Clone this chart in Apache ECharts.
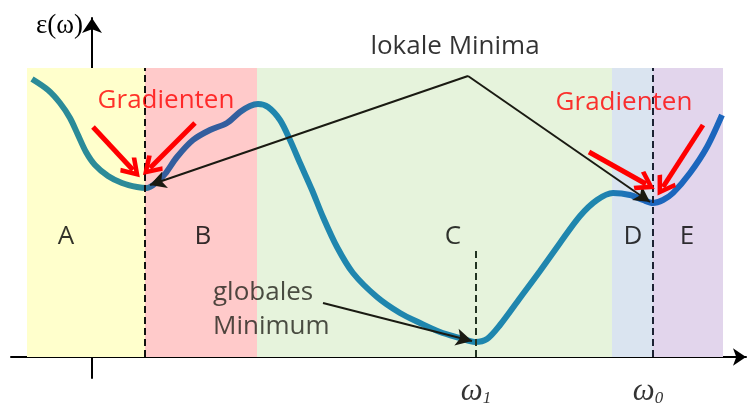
<!DOCTYPE html>
<html>
<head>
<meta charset="utf-8">
<script src="https://cdn.jsdelivr.net/npm/echarts@6/dist/echarts.min.js"></script>
<style>
  html, body { margin: 0; padding: 0; background: #fff; }
  #chart { width: 753px; height: 405px; }
</style>
</head>
<body>
<div id="chart"></div>
<script>
// x: Abstand zur y-Achse, y: Höhe über der x-Achse
const curveX = [-60, -44, -32, -22, -14, -6, 3, 16, 30, 45, 55, 65, 73, 85, 101, 118, 135, 148,
    158, 166, 176, 188, 198, 208, 220, 231, 245, 261, 285, 308, 328, 348, 368, 383, 395, 408,
    428, 448, 468, 488, 505, 521, 538, 551, 561, 571, 581, 598, 615, 630];
const curveY = [278, 267, 254, 239, 222, 205, 192, 181, 174, 170, 169, 175, 183, 200, 217, 227, 234, 245,
    251, 253, 250, 237, 217, 194, 167, 140, 110, 84, 60, 44, 34, 25, 19, 15, 18, 32,
    59, 86, 114, 141, 157, 164, 162, 157, 154, 157, 164, 184, 210, 242];

const regionNames = ['A', 'B', 'C', 'D', 'E'];
const regionEdges = [-65, 53, 165, 520, 561, 631];
const regionTop = 289;
const regionLabelX = [-26, 111, 361, 541, 595];
const regionLabelY = 120;

const omegaX = [384, 556];
const omegaSubs = ['1', '0'];
const axisBottom = -21;

// senkrechte gestrichelte Linien: [x, oberes Ende]
const dashedLines = [[53, 289], [561, 289], [384, 109]];

const localApex = [376, 281];
const localTips = [[58, 172], [558, 155]];
const globalFrom = [231, 54];
const globalTip = [380, 16];
const gradientArrows = [
    [[1, 230], [41, 187]],
    [[103, 234], [58, 189]],
    [[497, 205], [554, 173]],
    [[611, 232], [571, 170]]
];

const textLocal = ['lokale Minima', 363, 310];
const textGrad = [['Gradienten', 74, 256], ['Gradienten', 532, 254]];
const textGlobal = ['globales\nMinimum', 121, 47];

const regionColors = ['#ffffcc', '#ffcaca', '#e6f3dc', '#dae4f0', '#e2d5ec'];
const dashColors = ['#111111', '#1c2233', '#223322'];
const sansFont = '"Open Sans", "Noto Sans", sans-serif';
const serifFont = '"Liberation Serif", "DejaVu Serif", serif';

const chevron = 'path://M50,0 L100,78 L84,92 L50,38 L16,92 L0,78 Z';

function curveData() {
    return curveX.map(function(x, i) { return [x, curveY[i]]; });
}

function regionAreas() {
    return regionNames.map(function(n, i) {
        return [
            { xAxis: regionEdges[i], yAxis: 0, itemStyle: { color: regionColors[i] } },
            { xAxis: regionEdges[i + 1], yAxis: regionTop }
        ];
    });
}

function dashedMarks() {
    return dashedLines.map(function(d, i) {
        return [
            { coord: [d[0], 0], lineStyle: { color: dashColors[i] } },
            { coord: [d[0], d[1]] }
        ];
    });
}

function blackArrows() {
    const list = localTips.map(function(t) {
        return [{ coord: localApex }, { coord: t }];
    });
    list.push([{ coord: globalFrom }, { coord: globalTip }]);
    return list;
}

function redArrows() {
    return gradientArrows.map(function(a) {
        return [{ coord: a[0] }, { coord: a[1] }];
    });
}

function textPoints() {
    const pts = [];
    regionNames.forEach(function(n, i) {
        pts.push({ name: n, value: [regionLabelX[i], regionLabelY] });
    });
    pts.push({ name: textLocal[0], value: [textLocal[1], textLocal[2]] });
    textGrad.forEach(function(t) {
        pts.push({ name: t[0], value: [t[1], t[2]], label: { color: '#ff0000' } });
    });
    pts.push({
        name: textGlobal[0], value: [textGlobal[1], textGlobal[2]],
        label: { align: 'left', lineHeight: 34, color: '#22221a' }
    });
    return pts;
}

function omegaPoints() {
    return omegaX.map(function(x, i) {
        return { name: omegaSubs[i], value: [x, axisBottom] };
    });
}

const chart = echarts.init(document.getElementById('chart'));

chart.setOption({
    animation: false,
    grid: { left: 11, right: 7, top: 18, bottom: 27, outerBoundsMode: 'none', containLabel: false },
    xAxis: {
        type: 'value',
        min: -81,
        max: 654,
        splitLine: { show: false },
        axisTick: { show: false },
        axisLabel: { show: false },
        axisLine: {
            onZero: true,
            symbol: ['none', 'arrow'],
            symbolSize: [13, 13],
            lineStyle: { color: '#000', width: 2 }
        }
    },
    yAxis: {
        type: 'value',
        min: axisBottom,
        max: 339,
        splitLine: { show: false },
        axisTick: { show: false },
        axisLabel: { show: false },
        axisLine: {
            onZero: true,
            symbol: ['none', 'arrow'],
            symbolSize: [15, 15],
            lineStyle: { color: '#000', width: 2 }
        },
        name: 'ε(ω)',
        nameLocation: 'end',
        nameGap: -21,
        nameTextStyle: {
            fontFamily: serifFont,
            fontSize: 27,
            color: '#000',
            align: 'right',
            padding: [0, 9, 0, 0]
        }
    },
    series: [
        {
            type: 'line',
            data: curveData(),
            smooth: 0.3,
            showSymbol: false,
            silent: true,
            lineStyle: {
                width: 6,
                color: new echarts.graphic.LinearGradient(0, 0, 1, 0, [
                    { offset: 0, color: '#2b8b98' },
                    { offset: 0.161, color: '#2b8b98' },
                    { offset: 0.18, color: '#335e9e' },
                    { offset: 0.3, color: '#335e9e' },
                    { offset: 0.335, color: '#1f86ae' },
                    { offset: 0.82, color: '#1f86ae' },
                    { offset: 0.88, color: '#1b66bd' },
                    { offset: 1, color: '#1b66bd' }
                ])
            },
            markArea: {
                silent: true,
                data: regionAreas()
            },
            markLine: {
                silent: true,
                symbol: ['none', 'none'],
                label: { show: false },
                lineStyle: { type: [7, 4], width: 2 },
                data: dashedMarks()
            }
        },
        {
            type: 'scatter',
            data: [],
            silent: true,
            markLine: {
                silent: true,
                symbol: ['none', 'arrow'],
                symbolSize: [13, 16],
                label: { show: false },
                lineStyle: { type: 'solid', width: 2, color: '#1a1a12' },
                data: blackArrows()
            }
        },
        {
            type: 'scatter',
            data: [],
            silent: true,
            markLine: {
                silent: true,
                symbol: ['none', chevron],
                symbolSize: [22, 20],
                label: { show: false },
                lineStyle: { type: 'solid', width: 5, color: '#ff0000', cap: 'butt' },
                data: redArrows()
            }
        },
        {
            type: 'scatter',
            data: textPoints(),
            symbolSize: 0,
            silent: true,
            z: 10,
            label: {
                show: true,
                position: 'inside',
                formatter: '{b}',
                fontFamily: sansFont,
                fontSize: 26,
                color: '#000'
            }
        },
        {
            type: 'scatter',
            data: omegaPoints(),
            symbolSize: 0,
            silent: true,
            clip: false,
            z: 10,
            label: {
                show: true,
                position: 'inside',
                offset: [0, 14],
                formatter: '{w|ω}{s|{b}}',
                rich: {
                    w: { fontFamily: serifFont, fontStyle: 'italic', fontSize: 31, color: '#000' },
                    s: { fontFamily: serifFont, fontStyle: 'italic', fontSize: 17, color: '#000', padding: [14, 0, 0, 0] }
                }
            }
        }
    ]
});
</script>
</body>
</html>
